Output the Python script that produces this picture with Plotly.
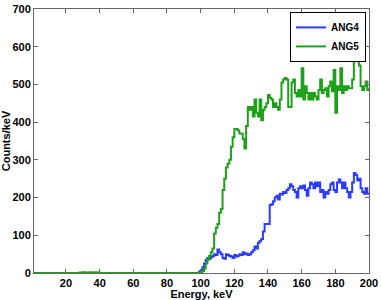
import plotly.graph_objects as go

energy = list(range(1, 201))

# ANG4 counts/keV (1..200 keV)
ang4_low = [0]*98  # 1..98
ang4_hi = [3, 8, 15, 25, 35, 40, 38, 42, 45, 50,       # 99-108
           48, 62, 55, 50, 40, 38, 50, 48, 45, 44,      # 109-118
           40, 48, 44, 46, 50, 48, 55, 50, 52, 48,      # 119-128
           50, 55, 60, 70, 65, 80, 85, 90, 110, 130,    # 129-138
           130, 130, 180, 182, 190, 200, 205, 195, 210, 208,  # 139-148
           215, 212, 220, 225, 235, 230, 220, 215, 200, 225,  # 149-158
           230, 225, 232, 220, 205, 225, 240, 235, 225, 240,  # 159-168
           230, 240, 215, 220, 200, 215, 210, 220, 235, 240,  # 169-178
           220, 215, 240, 248, 240, 225, 240, 225, 215, 200,  # 179-188
           215, 240, 265, 260, 245, 250, 225, 215, 210, 225,  # 189-198
           210, 208]                                         # 199-200
ang4 = ang4_low + ang4_hi

# ANG5 counts/keV (1..200 keV)
ang5_low = [0]*27 + [1, 1, 2, 2, 1, 1, 2, 1, 1, 2, 1, 1, 0] + [0]*59  # 1..98
ang5_hi = [2, 5, 12, 25, 35, 45, 55, 65, 105, 120,     # 99-108
           130, 160, 170, 220, 250, 280, 290, 300, 335, 360,  # 109-118
           382, 382, 378, 370, 370, 355, 330, 390, 440, 433,  # 119-128
           440, 415, 460, 425, 415, 460, 405, 433, 440, 450,  # 129-138
           472, 465, 460, 440, 450, 440, 433, 460, 505, 513,  # 139-148
           517, 513, 440, 440, 505, 513, 477, 468, 485, 468,  # 149-158
           543, 460, 495, 477, 460, 477, 460, 477, 468, 460,  # 159-168
           485, 513, 477, 485, 490, 468, 495, 508, 482, 538,  # 169-178
           425, 495, 485, 543, 477, 495, 485, 495, 490, 490,  # 179-188
           513, 565, 592, 597, 550, 495, 485, 495, 508, 485,  # 189-198
           490, 480]                                         # 199-200
ang5 = ang5_low + ang5_hi

x_ticks = [20, 40, 60, 80, 100, 120, 140, 160, 180, 200]
y_ticks = [0, 100, 200, 300, 400, 500, 600, 700]

font_family = "Liberation Sans, Arial, sans-serif"

fig = go.Figure()
fig.add_trace(go.Scatter(x=energy, y=ang4, name="ANG4", mode="lines",
                         line=dict(color="#2a3cff", width=2, shape="hv")))
fig.add_trace(go.Scatter(x=energy, y=ang5, name="ANG5", mode="lines",
                         line=dict(color="#1fa01a", width=2, shape="hv")))

fig.update_layout(
    width=381, height=300, autosize=False,
    margin=dict(l=34, r=12, t=9, b=27, pad=0),
    paper_bgcolor="white", plot_bgcolor="white",
    font=dict(family=font_family, size=11, color="black"),
    showlegend=True,
    legend=dict(x=0.991, y=0.989, xanchor="right", yanchor="top",
                bgcolor="white", bordercolor="black", borderwidth=1,
                font=dict(family=font_family, size=10, weight="bold"),
                tracegroupgap=0, itemwidth=30),
)
fig.update_xaxes(
    range=[1, 200], tickvals=x_ticks, ticktext=[str(v) for v in x_ticks],
    ticks="inside", ticklen=4, tickcolor="#666", mirror="ticks",
    showline=True, linecolor="#666", linewidth=1, showgrid=False, zeroline=False,
    automargin=False,
    tickfont=dict(family=font_family, size=11, weight="bold"),
    title=dict(text="Energy, keV", standoff=0,
               font=dict(family=font_family, size=11, weight="bold")),
)
fig.update_yaxes(
    range=[0, 700], tickvals=y_ticks, ticktext=[str(v) for v in y_ticks],
    ticks="inside", ticklen=4, tickcolor="#666", mirror="ticks",
    showline=True, linecolor="#666", linewidth=1, showgrid=False, zeroline=False,
    automargin=False,
    tickfont=dict(family=font_family, size=11, weight="bold"),
    title=dict(text="Counts/keV", standoff=0,
               font=dict(family=font_family, size=11, weight="bold")),
)

fig.write_html("out.html", config={"displayModeBar": False},
               post_script="document.body.style.margin='0';document.body.style.overflow='hidden';")
